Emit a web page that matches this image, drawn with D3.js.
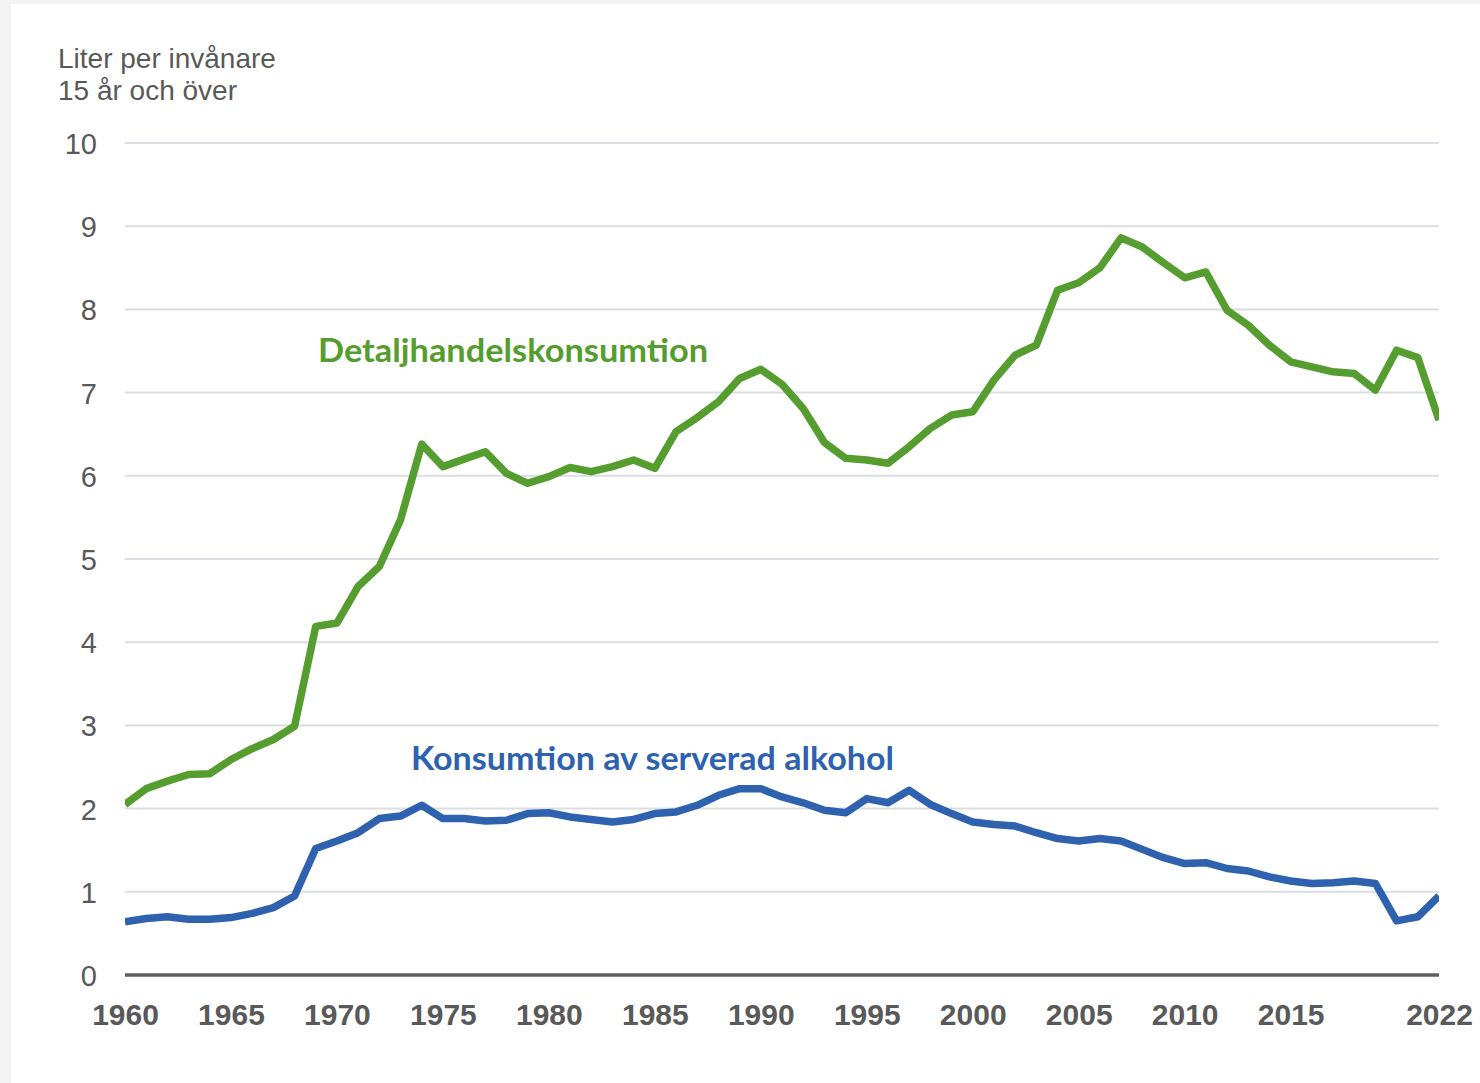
<!DOCTYPE html>
<html>
<head>
<meta charset="utf-8">
<script src="https://cdn.jsdelivr.net/npm/d3@7"></script>
<style>
  html, body { margin: 0; padding: 0; background: #f3f3f3; }
  svg { display: block; }
</style>
</head>
<body>
<svg id="chart" width="1480" height="1083"></svg>
<script>
const years = d3.range(1960, 2023);
const retail = [
  2.05, 2.24, 2.33, 2.41, 2.42, 2.59, 2.72, 2.83, 2.99, 4.19,
  4.23, 4.67, 4.91, 5.47, 6.38, 6.11, 6.20, 6.29, 6.03, 5.91,
  5.99, 6.10, 6.05, 6.11, 6.19, 6.09, 6.53, 6.70, 6.89, 7.17,
  7.28, 7.10, 6.81, 6.40, 6.21, 6.19, 6.15, 6.35, 6.57, 6.73,
  6.77, 7.15, 7.45, 7.57, 8.23, 8.32, 8.50, 8.86, 8.75, 8.56,
  8.38, 8.45, 7.99, 7.81, 7.57, 7.37, 7.31, 7.25, 7.23, 7.03,
  7.51, 7.42, 6.67
];
const served = [
  0.64, 0.68, 0.70, 0.67, 0.67, 0.69, 0.74, 0.81, 0.95, 1.52,
  1.61, 1.71, 1.88, 1.91, 2.04, 1.88, 1.88, 1.85, 1.86, 1.94,
  1.95, 1.90, 1.87, 1.84, 1.87, 1.94, 1.96, 2.04, 2.16, 2.24,
  2.24, 2.14, 2.07, 1.98, 1.95, 2.12, 2.07, 2.22, 2.05, 1.94,
  1.84, 1.81, 1.79, 1.71, 1.64, 1.61, 1.64, 1.61, 1.51, 1.41,
  1.34, 1.35, 1.28, 1.25, 1.18, 1.13, 1.10, 1.11, 1.13, 1.10,
  0.65, 0.70, 0.95
];
const yTicks = [0, 1, 2, 3, 4, 5, 6, 7, 8, 9, 10];
const xTicks = [1960, 1965, 1970, 1975, 1980, 1985, 1990, 1995, 2000, 2005, 2010, 2015, 2022];
const axisTitle = ["Liter per invånare", "15 år och över"];
const seriesNames = ["Detaljhandelskonsumtion", "Konsumtion av serverad alkohol"];

const svg = d3.select("#chart");
svg.append("rect").attr("x", 11).attr("y", 4).attr("width", 1469).attr("height", 1079).attr("fill", "#ffffff");

const x = d3.scaleLinear().domain([1960, 2022]).range([125, 1439]);
const y = d3.scaleLinear().domain([0, 10]).range([975, 143]);

// gridlines
svg.append("g").selectAll("line").data(yTicks.filter(d => d > 0)).join("line")
  .attr("x1", x(1960)).attr("x2", x(2022))
  .attr("y1", d => y(d)).attr("y2", d => y(d))
  .attr("stroke", "#dadde1").attr("stroke-width", 2);

// y axis labels
const yAxis = d3.axisLeft(y).tickValues(yTicks).tickSize(0).tickPadding(0);
const gy = svg.append("g").attr("transform", "translate(97,0)").call(yAxis);
gy.select(".domain").remove();
gy.selectAll("text")
  .attr("font-family", "'Liberation Sans', Arial, sans-serif")
  .attr("font-size", 29).attr("fill", "#595959").attr("dy", "0.36em").attr("x", 0);

// x axis
const xAxis = d3.axisBottom(x).tickValues(xTicks).tickFormat(d3.format("d")).tickSize(0).tickPadding(0);
const gx = svg.append("g").attr("transform", `translate(0,${y(0)})`).call(xAxis);
gx.select(".domain").remove();
gx.selectAll("text")
  .attr("font-family", "'Liberation Sans', Arial, sans-serif")
  .attr("font-weight", "bold")
  .attr("font-size", 30).attr("fill", "#595959").attr("dy", 0).attr("y", 50);

svg.append("line")
  .attr("x1", x(1960)).attr("x2", x(2022))
  .attr("y1", y(0)).attr("y2", y(0))
  .attr("stroke", "#5f5f5f").attr("stroke-width", 3.5);

// title
svg.append("g").selectAll("text").data(axisTitle).join("text")
  .attr("x", 58).attr("y", (d, i) => 67.5 + i * 32.5)
  .attr("font-family", "'Liberation Sans', Arial, sans-serif")
  .attr("font-size", 28).attr("fill", "#595959")
  .text(d => d);

// lines
const line = d3.line().x((d, i) => x(years[i])).y(d => y(d));
svg.append("clipPath").attr("id", "clip").append("rect")
  .attr("x", x(1960)).attr("y", 0).attr("width", x(2022) - x(1960)).attr("height", 1083);

svg.append("path").datum(retail).attr("d", line)
  .attr("clip-path", "url(#clip)")
  .attr("fill", "none").attr("stroke", "#559d2f").attr("stroke-width", 7.5)
  .attr("stroke-linejoin", "round");
svg.append("path").datum(served).attr("d", line)
  .attr("clip-path", "url(#clip)")
  .attr("fill", "none").attr("stroke", "#2e62af").attr("stroke-width", 7.5)
  .attr("stroke-linejoin", "round");

// series labels
svg.append("text").attr("x", 318).attr("y", 362)
  .attr("font-family", "Lato, 'Open Sans', sans-serif").attr("font-weight", "bold")
  .attr("font-size", 32).attr("fill", "#559d2f")
  .attr("textLength", 390).attr("lengthAdjust", "spacingAndGlyphs")
  .text(seriesNames[0]);
svg.append("text").attr("x", 411).attr("y", 770)
  .attr("font-family", "Lato, 'Open Sans', sans-serif").attr("font-weight", "bold")
  .attr("font-size", 32).attr("fill", "#2e62af")
  .attr("textLength", 483).attr("lengthAdjust", "spacingAndGlyphs")
  .text(seriesNames[1]);
</script>
</body>
</html>
